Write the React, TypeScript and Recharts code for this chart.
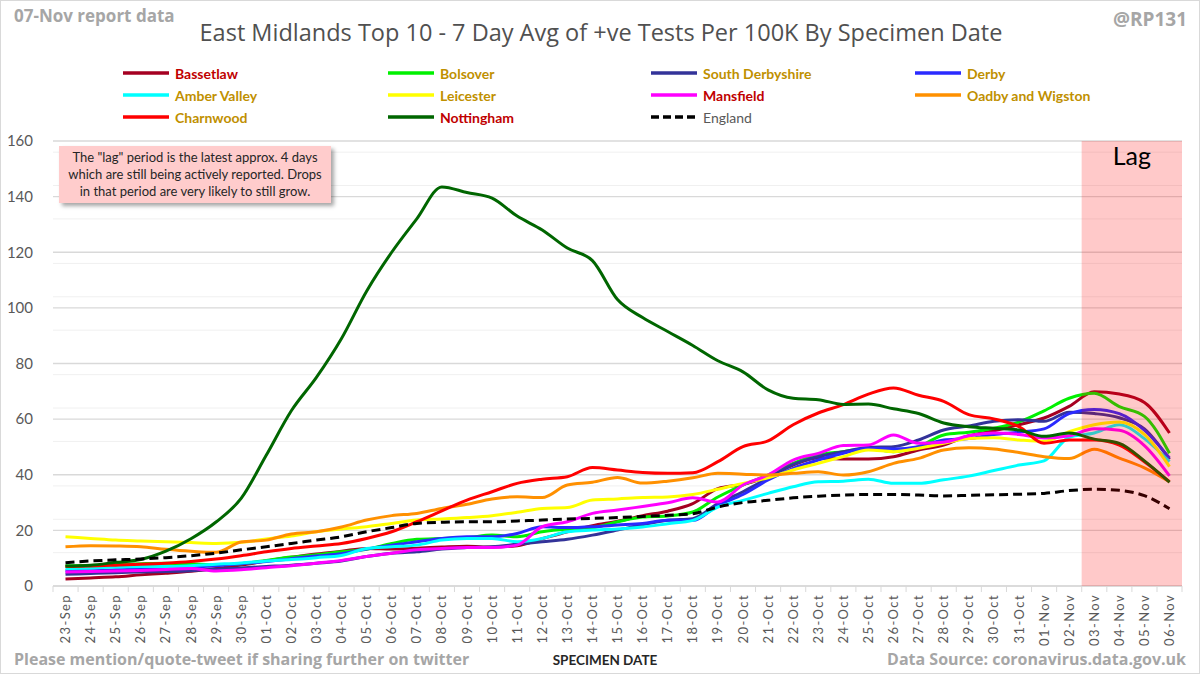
import React from "react";
import {
  CartesianGrid,
  Legend,
  Line,
  LineChart,
  ReferenceArea,
  XAxis,
  YAxis,
} from "recharts";

const FONT = "Lato, 'Noto Sans', sans-serif";
const FONT_UI = "'Open Sans', 'Noto Sans', sans-serif";

const dates = [
  "23-Sep", "24-Sep", "25-Sep", "26-Sep", "27-Sep", "28-Sep", "29-Sep", "30-Sep",
  "01-Oct", "02-Oct", "03-Oct", "04-Oct", "05-Oct", "06-Oct", "07-Oct", "08-Oct",
  "09-Oct", "10-Oct", "11-Oct", "12-Oct", "13-Oct", "14-Oct", "15-Oct", "16-Oct",
  "17-Oct", "18-Oct", "19-Oct", "20-Oct", "21-Oct", "22-Oct", "23-Oct", "24-Oct",
  "25-Oct", "26-Oct", "27-Oct", "28-Oct", "29-Oct", "30-Oct", "31-Oct",
  "01-Nov", "02-Nov", "03-Nov", "04-Nov", "05-Nov", "06-Nov",
];

// first day of the "lag" period
const lagFrom = "03-Nov";

const bassetlaw = [2.5, 2.9, 3.3, 4, 4.6, 5.3, 6.3, 7.5, 9, 10.3, 11.5, 12.5, 13.5, 13.3, 13.6, 14, 14.3, 14, 14.5, 17, 19.5, 21.7, 23.3, 25.3, 26.9, 29.6, 35, 36.5, 39.3, 43.5, 46, 45.7, 45.7, 46.5, 48.9, 50.7, 54, 55.8, 58, 60.4, 64.6, 69.8, 69, 66, 55];
const bolsover = [7.2, 7.4, 7.7, 8, 8.2, 8, 7.6, 8, 9.2, 10.4, 11.2, 12.3, 13.2, 15.3, 16.8, 17.1, 17.4, 18.3, 17.7, 19.5, 20.5, 21, 23.1, 24.8, 25.2, 26.6, 32, 36.3, 39.9, 44.1, 47.1, 48.3, 49.5, 48.3, 50.1, 54.3, 55.3, 56.7, 59, 63, 67.5, 69.3, 64.5, 61, 47.7];
const southDerbyshire = [4.2, 4.5, 4.8, 5, 5.2, 5.5, 6, 6.5, 7, 7.5, 8.2, 9, 10.6, 11.8, 12.3, 13.3, 13.8, 14.1, 15, 15.9, 16.8, 18.3, 20.1, 22, 23.6, 24.2, 29.6, 33.9, 38.7, 43.7, 46.5, 48.3, 49.8, 50.1, 52.5, 56.1, 57.5, 59.2, 59.8, 59.2, 62.5, 62, 60.5, 56.5, 45.5];
const derby = [5.5, 5.5, 5.8, 6, 6.2, 6.7, 7.3, 8, 8.8, 9.8, 10.8, 11.6, 13.3, 14.7, 15.9, 17.1, 17.7, 17.7, 18.9, 21.3, 21, 21.3, 21.9, 22.5, 23.6, 23.6, 29, 32.9, 38.1, 42.3, 45.3, 47.7, 49.5, 49.3, 50.1, 52.5, 53, 54.5, 55.3, 56.5, 62, 63.5, 62, 56, 46];
const amberValley = [6.2, 6.5, 6.8, 7, 7, 7.3, 7.8, 8.3, 9, 9.5, 10.2, 11, 13.5, 14.1, 14.7, 16.5, 17.1, 17.1, 15.9, 17.1, 19.5, 20.1, 20.5, 21.2, 22.4, 23.6, 28.4, 30.8, 33.3, 35.7, 37.5, 37.7, 38.4, 36.9, 36.9, 38.2, 39.5, 41.5, 43.5, 45, 53.5, 55, 58, 53, 44.7];
const leicester = [17.7, 17.1, 16.5, 16.2, 15.9, 15.6, 15.3, 15.7, 16.9, 18, 19.5, 20.5, 21.3, 22.5, 23.7, 24.1, 24.6, 25.3, 26.5, 27.9, 28.2, 30.9, 31.3, 31.8, 32, 32.9, 34.8, 36.9, 38.9, 41.7, 44.1, 46.5, 48.9, 48.3, 49.5, 51.3, 53, 53.3, 52.5, 52, 55.5, 58, 59, 54.5, 42.9];
const mansfield = [5, 5.2, 5.4, 5.6, 5.9, 6.3, 5.4, 5.8, 6.6, 7.3, 8.2, 9.2, 10.6, 11.8, 13, 13.5, 13.8, 13.8, 14.7, 21.3, 23.1, 26.1, 27.3, 28.6, 29.9, 31.7, 30.2, 36.3, 39.9, 45.3, 47.7, 50.5, 50.7, 54.3, 51.3, 51.7, 54, 55, 54.5, 53.2, 54, 56.5, 56, 50.5, 39.6];
const oadbyWigston = [14.1, 14.5, 14.4, 14.1, 13.2, 12.5, 12.1, 15.8, 16.5, 18.7, 19.5, 21.2, 23.7, 25.3, 26.1, 27.9, 29.4, 31.3, 32.1, 31.8, 36.3, 37.3, 39, 37, 37.7, 38.9, 40.5, 40.2, 39.9, 40.5, 41.1, 39.9, 41.1, 44.1, 45.9, 48.9, 49.7, 49.3, 48, 46.5, 45.8, 49.2, 46, 42.5, 37.5];
const charnwood = [7, 7.2, 7.5, 7.8, 8.2, 8.8, 9.7, 10.9, 12.3, 13.5, 14.4, 15.3, 17.1, 19.5, 23.1, 27, 30.9, 33.9, 36.9, 38.4, 39.3, 42.6, 41.7, 40.8, 40.5, 40.7, 44.7, 50.1, 52.2, 58, 62.2, 65.2, 69, 71.2, 68.6, 66.4, 61.6, 60.1, 57.3, 51.3, 52.5, 52.5, 50.7, 44.7, 37.5];
const nottingham = [7.2, 7.5, 8.5, 9.5, 12.5, 17, 23, 31.5, 47, 63, 75, 89, 106, 120, 132, 143.5, 141.5, 139.5, 133, 128, 121.5, 117, 103, 96.5, 91.5, 86.5, 81, 77, 70.5, 67.5, 67, 65.3, 65.4, 63.7, 62, 58.6, 57.3, 56.7, 56.1, 53.8, 55, 52.8, 51.3, 45, 37.3];
const england = [8.4, 9, 9.4, 9.7, 10.2, 10.9, 11.8, 13, 14.1, 15.3, 16.5, 17.7, 19.5, 21, 22.5, 22.9, 23.1, 23.1, 23.4, 23.7, 24.1, 24.3, 24.6, 25, 25.4, 26, 28.4, 30, 30.8, 31.7, 32.3, 32.7, 32.9, 32.9, 32.7, 32.4, 32.6, 32.8, 33, 33.3, 34.3, 34.8, 34.4, 32.5, 27.8];

const yTicks = [0, 20, 40, 60, 80, 100, 120, 140, 160];
const minorTicks = [4, 8, 12, 16, 24, 28, 32, 36, 44, 48, 52, 56, 64, 68, 72, 76, 84, 88, 92, 96, 104, 108, 112, 116, 124, 128, 132, 136, 144, 148, 152, 156];

const series = [
  { key: "bassetlaw", name: "Bassetlaw", values: bassetlaw, color: "#A50021", label: "#C00000" },
  { key: "bolsover", name: "Bolsover", values: bolsover, color: "#00F000", label: "#BF9000" },
  { key: "southDerbyshire", name: "South Derbyshire", values: southDerbyshire, color: "#333399", label: "#BF9000" },
  { key: "derby", name: "Derby", values: derby, color: "#2A2AFF", label: "#BF9000" },
  { key: "amberValley", name: "Amber Valley", values: amberValley, color: "#00FFFF", label: "#BF9000" },
  { key: "leicester", name: "Leicester", values: leicester, color: "#FFFF00", label: "#BF9000" },
  { key: "mansfield", name: "Mansfield", values: mansfield, color: "#FF00FF", label: "#C00000" },
  { key: "oadbyWigston", name: "Oadby and Wigston", values: oadbyWigston, color: "#FF9000", label: "#BF9000" },
  { key: "charnwood", name: "Charnwood", values: charnwood, color: "#FF0000", label: "#BF9000" },
  { key: "nottingham", name: "Nottingham", values: nottingham, color: "#006600", label: "#C00000" },
  { key: "england", name: "England", values: england, color: "#000000", label: "#595959", dashed: true },
];

const data = dates.map((date, i) => {
  const row: Record<string, string | number> = { date, idx: i };
  series.forEach((s) => {
    row[s.key] = s.values[i];
  });
  return row;
});

// the shaded band runs from the left edge of the first lag day to the end
const lagStart = dates.indexOf(lagFrom) - 0.5;
const lagEnd = dates.length - 0.5;

const BAND_HALF = 12.5;

const DateTick = (props: any) => {
  const { x, y, payload, index } = props;
  return (
    <g>
      <line x1={x - BAND_HALF} x2={x - BAND_HALF} y1={y} y2={y + 6} stroke="#D9D9D9" />
      {index === dates.length - 1 && (
        <line x1={x + BAND_HALF} x2={x + BAND_HALF} y1={y} y2={y + 6} stroke="#D9D9D9" />
      )}
      <text
        transform={`translate(${x},${y + 8}) rotate(-90)`}
        textAnchor="end"
        dy="0.35em"
        fontSize={13}
        letterSpacing={1.4}
        fill="#595959"
        fontFamily={FONT}
      >
        {payload.value}
      </text>
    </g>
  );
};

const columns = [122, 387, 650, 914];

const LegendBox = () => (
  <div style={{ position: "relative", width: 1200, height: 70, fontFamily: FONT }}>
    {series.map((s, i) => (
      <div
        key={s.key}
        style={{
          position: "absolute",
          left: columns[i % 4],
          top: Math.floor(i / 4) * 22,
          height: 22,
          display: "flex",
          alignItems: "center",
        }}
      >
        <svg width={46} height={6}>
          <line
            x1={0}
            x2={46}
            y1={3}
            y2={3}
            stroke={s.color}
            strokeWidth={3.5}
            strokeDasharray={s.dashed ? "8 4" : undefined}
          />
        </svg>
        <span
          style={{
            marginLeft: 6,
            fontSize: 14,
            fontWeight: s.dashed ? 400 : 700,
            color: s.label,
          }}
        >
          {s.name}
        </span>
      </div>
    ))}
  </div>
);

const grayText: React.CSSProperties = {
  position: "absolute",
  fontFamily: FONT_UI,
  fontWeight: 700,
  color: "#A6A6A6",
  whiteSpace: "nowrap",
};

const App: React.FC = () => {
  return (
    <div
      style={{
        position: "absolute",
        left: 0,
        top: 0,
        width: 1198,
        height: 672,
        border: "1px solid #D9D9D9",
        background: "#fff",
        fontFamily: FONT,
        overflow: "hidden",
      }}
    >
      <div style={{ ...grayText, left: 13, top: 3, fontSize: 17 }}>07-Nov report data</div>
      <div style={{ ...grayText, right: 12, top: 5, fontSize: 19 }}>@RP131</div>
      <div
        style={{
          position: "absolute",
          left: 0,
          width: 1200,
          top: 15,
          textAlign: "center",
          fontFamily: FONT_UI,
          fontSize: 23.5,
          color: "#505050",
          whiteSpace: "nowrap",
        }}
      >
        East Midlands Top 10 - 7 Day Avg of +ve Tests Per 100K By Specimen Date
      </div>

      <LineChart
        width={1200}
        height={674}
        data={data}
        margin={{ top: 140, right: 19, bottom: 29, left: 12 }}
      >
        <CartesianGrid vertical={false} horizontalValues={minorTicks} stroke="#F0F0F0" />
        <CartesianGrid vertical={false} stroke="#D9D9D9" strokeWidth={1.3} />
        <XAxis
          dataKey="date"
          interval={0}
          height={60}
          padding={{ left: BAND_HALF, right: BAND_HALF }}
          tickLine={false}
          tickSize={0}
          tickMargin={0}
          axisLine={{ stroke: "#D9D9D9", strokeWidth: 1.3 }}
          tick={<DateTick />}
        />
        <XAxis
          xAxisId="band"
          dataKey="idx"
          type="number"
          domain={[-0.5, lagEnd]}
          allowDataOverflow
          hide
        />
        <YAxis
          domain={[0, 160]}
          ticks={yTicks}
          width={40}
          axisLine={false}
          tickLine={false}
          tickMargin={14}
          tick={{ fill: "#595959", fontSize: 15, fontFamily: FONT }}
        />
        {series.map((s) => (
          <Line
            key={s.key}
            type="monotone"
            dataKey={s.key}
            name={s.name}
            stroke={s.color}
            strokeWidth={3}
            strokeDasharray={s.dashed ? "9 5" : undefined}
            dot={false}
            activeDot={false}
            isAnimationActive={false}
          />
        ))}
        <ReferenceArea
          xAxisId="band"
          x1={lagStart}
          x2={lagEnd}
          y1={0}
          y2={160}
          fill="#FF0000"
          fillOpacity={0.21}
          stroke="none"
          ifOverflow="extendDomain"
          zIndex={1000}
          label={{ value: "Lag", position: "insideTop", offset: 6, fontSize: 25, fill: "#000", fontFamily: FONT }}
        />
        <Legend
          layout="horizontal"
          verticalAlign="middle"
          align="center"
          wrapperStyle={{ top: 61, left: 0, width: 1200 }}
          content={() => <LegendBox />}
        />
      </LineChart>

      <div
        style={{
          position: "absolute",
          left: 58,
          top: 145,
          width: 272,
          height: 57,
          background: "#FFCCCC",
          boxShadow: "3px 3px 4px rgba(0,0,0,0.35)",
          color: "#262626",
          fontSize: 13,
          lineHeight: "17px",
          textAlign: "center",
          paddingTop: 3,
          boxSizing: "border-box",
          whiteSpace: "nowrap",
        }}
      >
        The "lag" period is the latest approx. 4 days
        <br />
        which are still being actively reported. Drops
        <br />
        in that period are very likely to still grow.
      </div>

      <div style={{ ...grayText, left: 13, top: 647, fontSize: 16 }}>
        Please mention/quote-tweet if sharing further on twitter
      </div>
      <div
        style={{
          position: "absolute",
          left: 504,
          width: 200,
          top: 651,
          textAlign: "center",
          fontSize: 13.5,
          fontWeight: 700,
          color: "#262626",
        }}
      >
        SPECIMEN DATE
      </div>
      <div style={{ ...grayText, right: 13, top: 647, fontSize: 16 }}>Data Source: coronavirus.data.gov.uk</div>
    </div>
  );
};

export default App;
